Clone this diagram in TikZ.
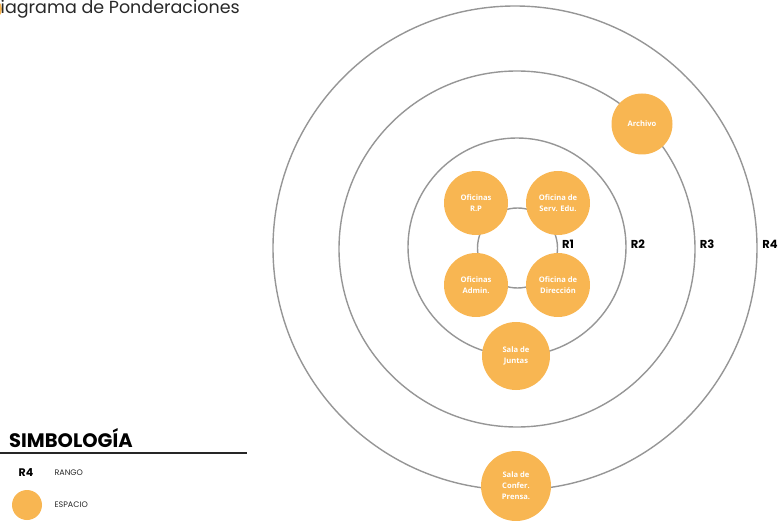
\documentclass[tikz,border=0pt]{standalone}
\usepackage{fontspec}
\setmainfont{Poppins}
\newfontfamily\lbl{Open Sans}
\definecolor{orng}{RGB}{248,182,82}
\definecolor{ringc}{RGB}{150,150,150}
\definecolor{txtc}{RGB}{40,40,40}
\begin{document}
\begin{tikzpicture}[x=1pt,y=-1pt,
  ring/.style={circle,draw=ringc,line width=1.4pt,inner sep=0pt},
  espacio/.style={circle,fill=orng,inner sep=0pt,minimum size=64pt,text=white,
    font=\lbl\bfseries\fontsize{7.6}{11}\selectfont,align=center},
  rlabel/.style={font=\bfseries\fontsize{11.5}{12}\selectfont,text=black},
  legtxt/.style={font=\fontsize{8}{9}\selectfont,text=txtc,anchor=west}]
\useasboundingbox (0,0) rectangle (779,521);
% title
\node[fill=orng,circle,minimum size=22pt,inner sep=0pt] (blob) at (-9,9) {};
\node[anchor=base west,inner sep=0pt,font=\fontsize{17.5}{18}\selectfont,text=txtc] (title) at (0.5,13.5) {iagrama de Ponderaciones};
% rings
\node[ring,minimum size=484pt] (r4) at (515,248) {};
\node[ring,minimum size=356pt] (r3) at (517,249) {};
\node[ring,minimum size=218pt] (r2) at (517,247) {};
\node[ring,minimum size=80pt] (r1) at (517.5,248) {};
% ring labels
\node[rlabel] (l1) at (568,244) {R1};
\node[rlabel] (l2) at (638,244) {R2};
\node[rlabel] (l3) at (707,244) {R3};
\node[rlabel] (l4) at (770,244) {R4};
% spaces
\node[espacio] (rp) at (476,203) {Oficinas\\R.P};
\node[espacio] (serv) at (558,203) {Oficina de\\Serv. Edu.};
\node[espacio] (admin) at (476,285) {Oficinas\\Admin.};
\node[espacio] (dir) at (558,285) {Oficina de\\Dirección};
\node[espacio,minimum size=68pt] (juntas) at (516,356) {Sala de\\Juntas};
\node[espacio,minimum size=70pt] (prensa) at (516,486) {Sala de\\Confer.\\Prensa.};
\node[espacio,minimum size=61pt] (archivo) at (642,124) {Archivo};
% legend
\node[anchor=base west,inner sep=0pt,font=\bfseries\fontsize{19.5}{20}\selectfont,text=black] (simb) at (9,447.5) {SIMBOLOGÍA};
\coordinate (la) at (0,452.5);
\coordinate (lb) at (247,452.5);
\draw[line width=2pt,black!85] (la) -- (lb);
\node[font=\bfseries\fontsize{11}{12}\selectfont,text=black] (legr) at (26,473) {R4};
\node[legtxt] (rango) at (51,473) {RANGO};
\node[circle,fill=orng,minimum size=30pt,inner sep=0pt] (legc) at (27,505) {};
\node[legtxt] (espt) at (51,505) {ESPACIO};
\end{tikzpicture}
\end{document}
